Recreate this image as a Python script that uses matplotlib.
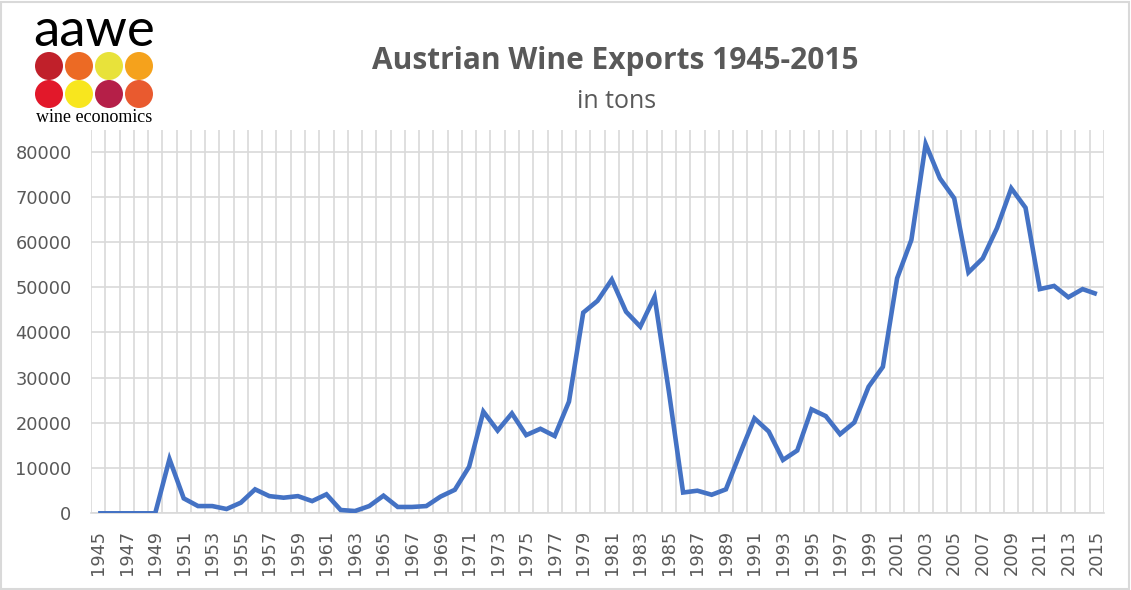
import matplotlib
matplotlib.use("Agg")
import matplotlib.pyplot as plt
from matplotlib.patches import Ellipse, Rectangle
import numpy as np

years = list(range(1945, 2016))
exports = [0, 0, 0, 0, 0, 12000, 3300, 1600, 1600, 950,
           2350, 5300, 3800, 3450, 3800, 2700, 4200, 730, 500, 1600,
           3900, 1400, 1400, 1600, 3700, 5200, 10300, 22500, 18300, 22100,
           17300, 18700, 17100, 24700, 44400, 47000, 51700, 44600, 41300, 47900,
           27000, 4600, 5000, 4100, 5300, 13300, 21000, 18100, 11800, 13900,
           23000, 21500, 17500, 20100, 28000, 32400, 52000, 60500, 81700, 74100,
           69700, 53300, 56400, 63100, 71900, 67600, 49600, 50300, 47800, 49600,
           48500]
ytick_values = [0, 10000, 20000, 30000, 40000, 50000, 60000, 70000, 80000]
xtick_years = years[::2]

title = "Austrian Wine Exports 1945-2015"
subtitle = "in tons"
logo_word = "aawe"
logo_sub = "wine economics"
logo_colors = ["#C0202A", "#EC6A24", "#E8E23A", "#F5A21C",
               "#E2182A", "#F8E61E", "#B51F48", "#E95A2F"]

W, H = 1131, 590
fig = plt.figure(figsize=(W / 100, H / 100), dpi=100)
fig.patch.set_facecolor("white")

ax = fig.add_axes([91 / W, (H - 513.3) / H, (1104 - 91) / W, (513.3 - 130) / H])
ax.plot(years, exports, color="#4472C4", linewidth=3.3, solid_joinstyle="miter",
        solid_capstyle="butt", zorder=3)
ax.set_xlim(years[0] - 0.5, years[-1] + 0.5)
ax.set_ylim(0, 84800)
ax.set_yticks(ytick_values)
ax.set_yticklabels([str(v) for v in ytick_values])
ax.set_xticks(xtick_years)
ax.set_xticklabels([str(y) for y in xtick_years], rotation=90)
ax.set_xticks(np.arange(years[0] - 0.5, years[-1] + 1.0, 1.0), minor=True)
ax.grid(True, axis="y", which="major", color="#D9D9D9", linewidth=1.2, zorder=0)
ax.grid(True, axis="x", which="minor", color="#D9D9D9", linewidth=1.2, zorder=0)
ax.grid(False, axis="x", which="major")
for s in ["top", "right", "left"]:
    ax.spines[s].set_visible(False)
ax.spines["bottom"].set_color("#D9D9D9")
ax.spines["bottom"].set_linewidth(1.2)
ax.tick_params(axis="both", which="both", length=0, colors="#595959", labelsize=12.8)
ax.tick_params(axis="x", pad=12)
ax.tick_params(axis="y", pad=14)

fig.text(615 / W, 1 - 69 / H, title, ha="center", va="baseline", fontsize=21.5,
         fontweight="bold", color="#595959", family="Open Sans")
fig.text(617 / W, 1 - 108 / H, subtitle, ha="center", va="baseline", fontsize=18,
         color="#595959", family="Open Sans")

# logo
fig.text(94 / W, 1 - 32 / H, logo_word, ha="center", va="center", fontsize=38,
         color="black", family="Lato")
centers_x = [49, 79, 109, 139]
centers_y = [66, 94]
k = 0
for cy in centers_y:
    for cx in centers_x:
        fig.patches.append(Ellipse((cx / W, 1 - cy / H), 28 / W, 28 / H,
                                   transform=fig.transFigure,
                                   facecolor=logo_colors[k], edgecolor="none"))
        k += 1
fig.text(94 / W, 1 - 117 / H, logo_sub, ha="center", va="center", fontsize=13,
         color="black", family="Liberation Serif")

fig.patches.append(Rectangle((1 / W, 1 / H), (W - 3) / W, (H - 3) / H, transform=fig.transFigure,
                             facecolor="none", edgecolor="#D9D9D9", linewidth=1.5))

fig.savefig("out.png", dpi=100)
